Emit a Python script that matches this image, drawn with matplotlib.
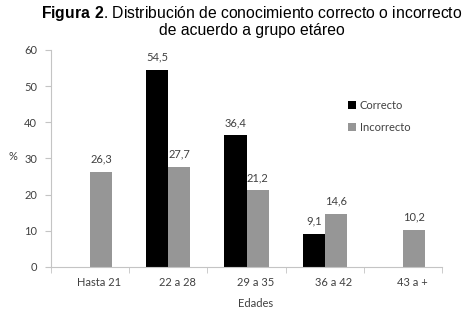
import matplotlib
matplotlib.use("Agg")
import matplotlib.pyplot as plt
import matplotlib.transforms as mtransforms
import numpy as np

categories = ["Hasta 21", "22 a 28", "29 a 35", "36 a 42", "43 a +"]
correcto = [None, 54.5, 36.4, 9.1, None]
incorrecto = [26.3, 27.7, 21.2, 14.6, 10.2]
yticks = [0, 10, 20, 30, 40, 50, 60]

plt.rcParams["font.family"] = ["Lato", "DejaVu Sans"]
plt.rcParams["mathtext.fontset"] = "custom"
plt.rcParams["mathtext.bf"] = "Liberation Sans:bold"
plt.rcParams["mathtext.rm"] = "Liberation Sans"
label_color = "#404040"
axis_color = "#c4c4c4"
fs = 8

fig = plt.figure(figsize=(4.63, 3.10), dpi=100)
ax = fig.add_axes([0.110, 0.139, 0.845, 0.700])

x = np.arange(len(categories))
width = 0.282

cx = [xi for xi, v in zip(x, correcto) if v is not None]
cv = [v for v in correcto if v is not None]
b1 = ax.bar(np.array(cx) - width / 2, cv, width, color="black", label="Correcto")
b2 = ax.bar(x + width / 2, incorrecto, width, color="#969696", label="Incorrecto")

for bars in (b1, b2):
    for r in bars:
        h = r.get_height()
        ax.text(r.get_x() + r.get_width() / 2, h + 2.0, f"{h:.1f}".replace(".", ","),
                ha="center", va="bottom", fontsize=fs, color=label_color)

ax.set_xlim(-0.5, len(categories) - 0.5)
ax.set_ylim(0, 60)
ax.set_yticks(yticks)
ax.set_xticks(x)
ax.set_xticklabels(categories)
ax.set_xticks(np.arange(len(categories) + 1) - 0.5, minor=True)
ax.tick_params(axis="x", which="major", length=0, pad=7, labelsize=fs, labelcolor=label_color)
ax.tick_params(axis="x", which="minor", length=4, color=axis_color, direction="out")
ax.tick_params(axis="y", length=4, color=axis_color, labelsize=fs, labelcolor=label_color, pad=6)

# Excel puts the category labels a bit right of the bar pairs
shift = mtransforms.ScaledTranslation(9 / 100, 0, fig.dpi_scale_trans)
for lab in ax.get_xticklabels():
    lab.set_transform(lab.get_transform() + shift)

for s in ("top", "right"):
    ax.spines[s].set_visible(False)
for s in ("left", "bottom"):
    ax.spines[s].set_color(axis_color)

ax.set_xlabel("Edades", fontsize=fs, color=label_color, va="center")
ax.xaxis.set_label_coords(0.522, -0.168)
ax.set_ylabel("%", fontsize=fs, color=label_color, rotation=0, va="center")
ax.yaxis.set_label_coords(-0.097, 0.51)

ax.legend(loc="upper left", bbox_to_anchor=(0.735, 0.815), frameon=False, fontsize=fs,
          handlelength=0.7, handleheight=0.7, handletextpad=0.3, labelspacing=0.95,
          labelcolor=label_color)

fig.text(0.543, 0.955, r"$\mathbf{Figura\ 2}$. Distribución de conocimiento correcto o incorrecto",
         ha="center", va="center", fontsize=11.3, family="Liberation Sans")
fig.text(0.545, 0.900, "de acuerdo a grupo etáreo",
         ha="center", va="center", fontsize=11.3, family="Liberation Sans")

fig.savefig("out.png", dpi=100)
